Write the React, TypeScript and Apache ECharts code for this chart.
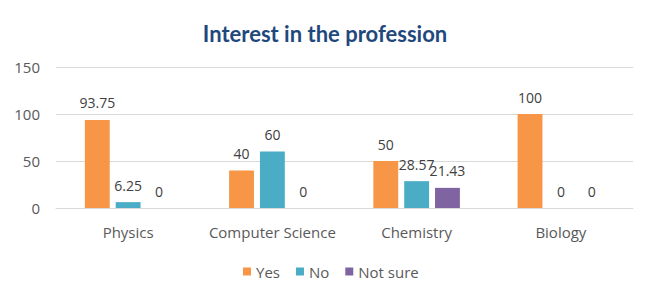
import React, { useEffect, useRef } from "react";
import * as echarts from "echarts";

const categories = ["Physics", "Computer Science", "Chemistry", "Biology"];
const yesValues = [93.75, 40, 50, 100];
const noValues = [6.25, 60, 28.57, 0];
const notSureValues = [0, 0, 21.43, 0];
const seriesNames = ["Yes", "No", "Not sure"];
const colors = ["#F79646", "#4BACC6", "#8064A2"];

const FONT = "'Open Sans', Lato, sans-serif";
const TITLE_FONT = "Lato, 'Open Sans', sans-serif";

export default function App() {
  const ref = useRef<HTMLDivElement>(null);
  useEffect(() => {
    document.body.style.margin = "0";
    if (!ref.current) return;
    const chart = echarts.init(ref.current, undefined, { renderer: "svg" });
    const label = {
      show: true,
      position: "top",
      distance: 10,
      fontSize: 14,
      color: "#404040",
      fontFamily: FONT,
    };
    const data = [yesValues, noValues, notSureValues];
    chart.setOption({
      animation: false,
      backgroundColor: "#ffffff",
      title: {
        text: "Interest in the profession",
        left: "center",
        top: 17,
        textStyle: {
          fontSize: 22,
          fontWeight: "bold",
          color: "#1F497D",
          fontFamily: TITLE_FONT,
        },
      },
      legend: {
        bottom: 12,
        left: 238,
        itemWidth: 8,
        itemHeight: 8,
        itemGap: 16,
        icon: "rect",
        textStyle: { fontSize: 15, color: "#595959", fontFamily: FONT },
        data: seriesNames,
      },
      grid: { left: 56, right: 17, top: 67, bottom: 88, containLabel: false },
      xAxis: {
        type: "category",
        data: categories,
        axisLine: { show: true, lineStyle: { color: "#D9D9D9" } },
        axisTick: { show: false },
        axisLabel: {
          interval: 0,
          fontSize: 15,
          color: "#595959",
          fontFamily: FONT,
          margin: 16,
        },
      },
      yAxis: {
        type: "value",
        min: 0,
        max: 150,
        interval: 50,
        axisLine: { show: false },
        axisTick: { show: false },
        splitLine: { lineStyle: { color: "#D9D9D9", width: 1 } },
        axisLabel: {
          fontSize: 15,
          color: "#595959",
          fontFamily: FONT,
          margin: 16,
        },
      },
      series: seriesNames.map((name, i) => ({
        name,
        type: "bar",
        data: data[i],
        barGap: "24%",
        barCategoryGap: "40%",
        itemStyle: { color: colors[i] },
        label,
      })),
    });
    return () => chart.dispose();
  }, []);
  return <div ref={ref} style={{ width: 650, height: 296 }} />;
}
